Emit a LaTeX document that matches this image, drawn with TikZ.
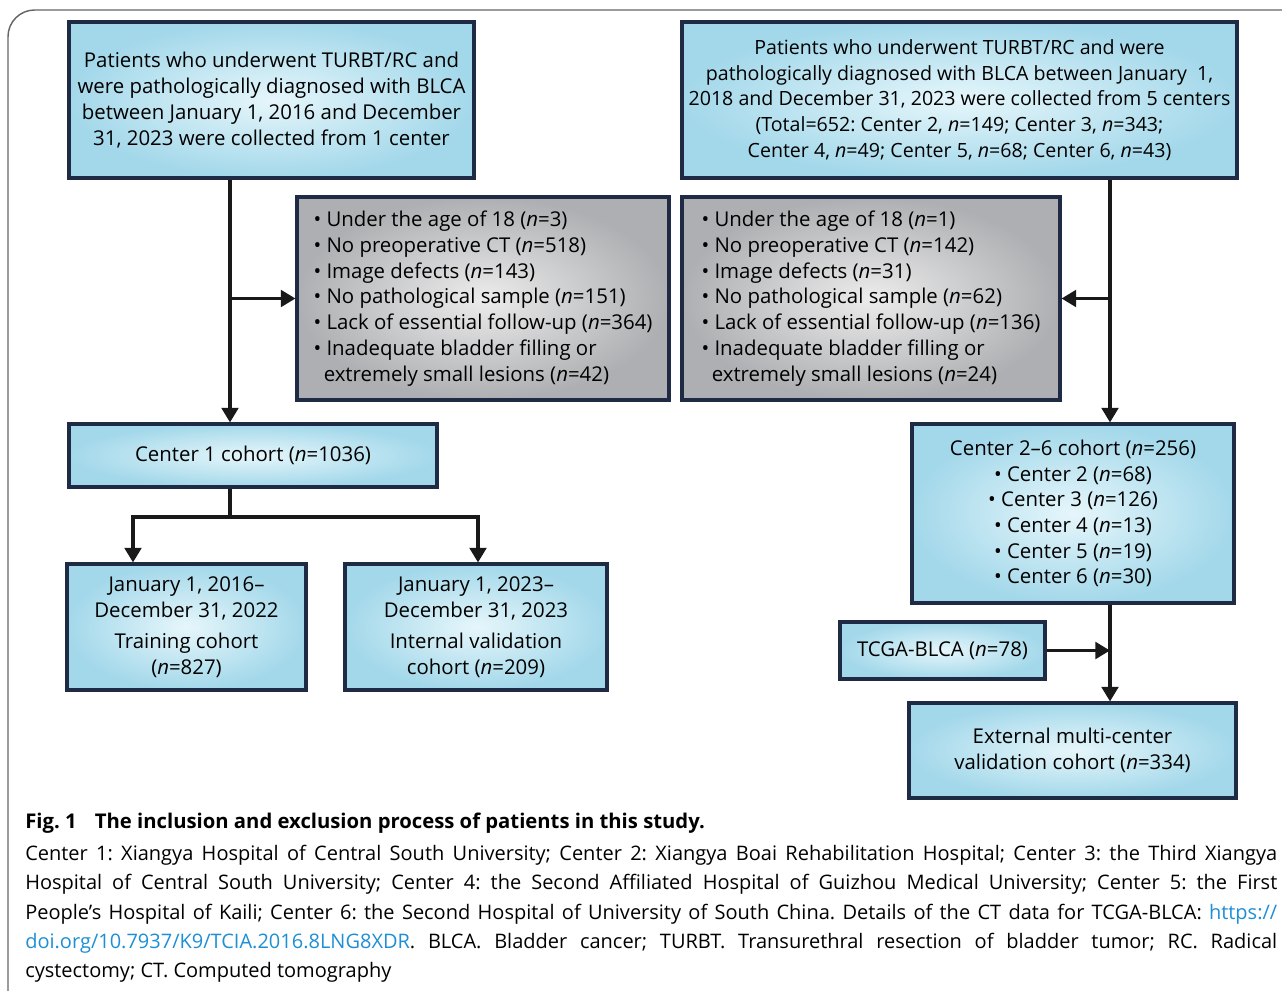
\documentclass[tikz,border=0pt]{standalone}
\usepackage{fontspec}
\setmainfont{Open Sans}
\usetikzlibrary{positioning,arrows.meta}
\usepackage{xcolor}
\frenchspacing

\definecolor{boxline}{HTML}{1F2A44}
\definecolor{boxblue}{HTML}{A3D8EA}
\definecolor{boxpale}{HTML}{E6F6FB}
\definecolor{boxgray}{HTML}{AEAFB2}
\definecolor{boxlight}{HTML}{ECECEC}
\definecolor{linkblue}{HTML}{1E8FD5}

\begin{document}
\begin{tikzpicture}[x=0.75pt, y=-0.75pt,
    >={Triangle[length=11pt,width=12.5pt]},
    flow/.style={line width=2.5pt, color=black!90},
    bluebox/.style={draw=boxline, line width=2.3pt, inner color=boxpale, outer color=boxblue,
        align=center, font=\fontsize{15.3}{19.3}\selectfont},
    graybox/.style={bluebox, inner color=boxlight, outer color=boxgray, align=left}]
    \useasboundingbox (0,0) rectangle (1282,991);

    % frame
    \draw [rounded corners=20, line width=1.1pt, color=black!60] (1282,10) -- (8,10) -- (8,991);

    % top boxes
    \node (srcL) [bluebox, minimum width=303.75pt, minimum height=117pt] at (271.5,100)
        {Patients who underwent TURBT/RC and\\were pathologically diagnosed with BLCA\\between January 1, 2016 and December\\31, 2023 were collected from 1 center};
    \node (srcR) [bluebox, inner xsep=2pt, font=\fontsize{14.7}{19.3}\selectfont,
        minimum width=416.25pt, minimum height=117pt] at (959.5,100)
        {Patients who underwent TURBT/RC and were\\pathologically diagnosed with BLCA between January \ 1,\\2018 and December 31, 2023 were collected from 5 centers\\(Total=652: Center 2, \textit{n}=149; Center 3, \textit{n}=343;\\Center 4, \textit{n}=49; Center 5, \textit{n}=68; Center 6, \textit{n}=43)};

    % exclusions
    \node (exclL) [graybox, minimum width=279pt, minimum height=152.25pt] at (483,298.5)
        {• Under the age of 18 (\textit{n}=3)\\• No preoperative CT (\textit{n}=518)\\• Image defects (\textit{n}=143)\\• No pathological sample (\textit{n}=151)\\• Lack of essential follow-up (\textit{n}=364)\\• Inadequate bladder filling or\\\hspace*{0.5em}extremely small lesions (\textit{n}=42)};
    \node (exclR) [graybox, minimum width=283.5pt, minimum height=152.25pt] at (871,298.5)
        {• Under the age of 18 (\textit{n}=1)\\• No preoperative CT (\textit{n}=142)\\• Image defects (\textit{n}=31)\\• No pathological sample (\textit{n}=62)\\• Lack of essential follow-up (\textit{n}=136)\\• Inadequate bladder filling or\\\hspace*{0.5em}extremely small lesions (\textit{n}=24)};

    % cohorts
    \node (center1) [bluebox, minimum width=276pt, minimum height=47.25pt] at (253,455.5)
        {Center 1 cohort (\textit{n}=1036)};
    \node (train) [bluebox, minimum width=179.25pt, minimum height=94.5pt] at (186.5,627)
        {January 1, 2016--\\December 31, 2022\\[4pt]Training cohort\\(\textit{n}=827)};
    \node (internal) [bluebox, minimum width=196.5pt, minimum height=94.5pt] at (476,627)
        {January 1, 2023--\\December 31, 2023\\[4pt]Internal validation\\cohort (\textit{n}=209)};
    \node (center26) [bluebox, minimum width=241.5pt, minimum height=134.25pt] at (1073,513.5)
        {Center 2--6 cohort (\textit{n}=256)\\• Center 2 (\textit{n}=68)\\• Center 3 (\textit{n}=126)\\• Center 4 (\textit{n}=13)\\• Center 5 (\textit{n}=19)\\• Center 6 (\textit{n}=30)};
    \node (tcga) [bluebox, minimum width=153.75pt, minimum height=42.75pt] at (942.5,650.5)
        {TCGA-BLCA (\textit{n}=78)};
    \node (external) [bluebox, minimum width=245.25pt, minimum height=71.25pt] at (1072.5,750.5)
        {External multi-center\\validation cohort (\textit{n}=334)};

    % connectors
    \coordinate (trunkL) at (230,297);
    \coordinate (trunkR) at (1110,297);
    \coordinate (fork) at (230,517);
    \coordinate (forkL) at (133,517);
    \coordinate (forkR) at (478,517);

    \draw [flow, ->] (srcL.south -| trunkL) -- (center1.north -| trunkL);
    \draw [flow, ->] (trunkL |- exclL.west) -- (exclL.west);
    \draw [flow, ->] (srcR.south -| trunkR) -- (center26.north -| trunkR);
    \draw [flow, ->] (trunkR |- exclR.east) -- (exclR.east);
    \draw [flow] (center1.south -| fork) -- (fork);
    \draw [flow, ->] (fork) -| (train.north -| forkL);
    \draw [flow, ->] (fork) -| (internal.north -| forkR);
    \draw [flow, ->] (center26.south -| trunkR) -- (external.north -| trunkR);
    \draw [flow, ->] (tcga.east) -- (tcga.east -| trunkR);

    % caption
    \node (title) [anchor=west, inner sep=0pt, font=\fontsize{15.2}{18}\selectfont\bfseries] at (25,823)
        {Fig. 1\hspace{0.9em}The inclusion and exclusion process of patients in this study.};
    \node (legend) [anchor=north west, inner sep=0pt, align=left, font=\fontsize{15}{22}\selectfont] at (25,845)
        {\makebox[939pt][s]{Center 1: Xiangya Hospital of Central South University; Center 2: Xiangya Boai Rehabilitation Hospital; Center 3: the Third Xiangya}\\
         \makebox[939pt][s]{Hospital of Central South University; Center 4: the Second Affiliated Hospital of Guizhou Medical University; Center 5: the First}\\
         \makebox[939pt][s]{People’s Hospital of Kaili; Center 6: the Second Hospital of University of South China. Details of the CT data for TCGA-BLCA: \textcolor{linkblue}{https://}}\\
         \makebox[939pt][s]{\textcolor{linkblue}{doi.org/10.7937/K9/TCIA.2016.8LNG8XDR}. BLCA. Bladder cancer; TURBT. Transurethral resection of bladder tumor; RC. Radical}\\
         cystectomy; CT. Computed tomography};
\end{tikzpicture}
\end{document}
